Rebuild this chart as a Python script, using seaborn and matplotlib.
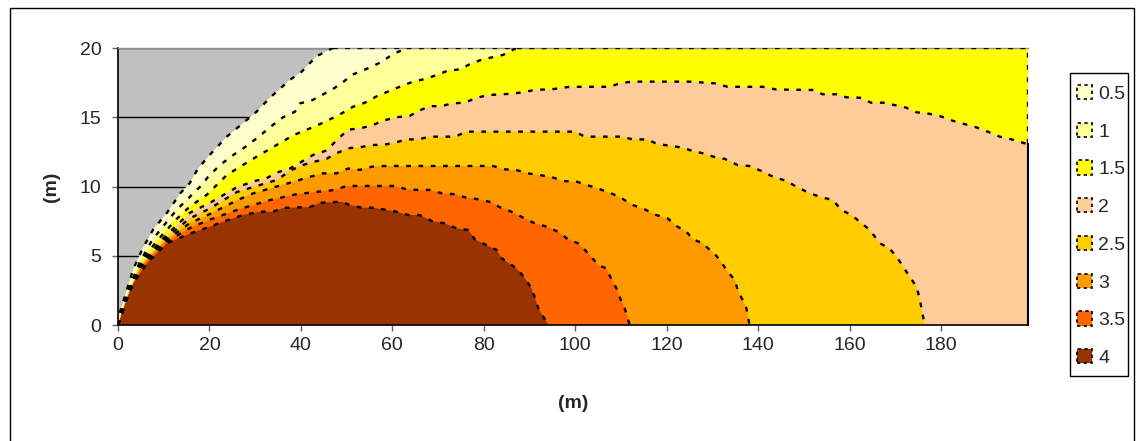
import matplotlib.pyplot as plt
import matplotlib.patches as mpatches
import seaborn as sns

# ---- contour band outlines (x in m, y in m) ----
# each outline starts at the origin and ends on the top, right or bottom edge
band_05_x = [0, 0.4, 1.9, 3.3, 5.5, 7.7, 10.7, 13.6, 15.7, 17.5, 20.1, 23.8, 26.7, 30.3, 33.2, 37.6, 40.2, 43.4, 47.0]
band_05_y = [0, 0.9, 2.5, 4.0, 5.6, 6.9, 8.1, 9.5, 10.25, 11.3, 12.3, 13.6, 14.4, 15.4, 16.4, 17.7, 18.3, 19.4, 20.0]

band_1_x = [0, 2.0, 3.3, 5.2, 7.4, 9.8, 12.8, 15.7, 18.3, 19.7, 22.3, 25.1, 27.8, 30.4, 33.9, 36.1, 38.7, 39.8,
            42.6, 46.8, 48.9, 51.1, 55.5, 57.6, 60.1, 63.1]
band_1_y = [0, 2.3, 3.4, 4.8, 6.1, 7.1, 8.3, 9.25, 10.1, 10.7, 11.55, 12.25, 12.85, 13.5, 14.45, 15.0, 15.4, 16.0,
            16.25, 17.0, 17.45, 18.05, 18.65, 19.0, 19.55, 20.0]

band_15_x = [0, 2.0, 4.8, 7.0, 9.8, 12.8, 15.7, 19.4, 23.8, 26.7, 30.3, 34.7, 38.3, 42.0, 44.8, 48.5, 51.4, 54.0,
             56.5, 59.0, 61.6, 64.5, 67.1, 69.7, 72.1, 74.8, 77.3, 79.8, 84.2, 87.1]
band_15_y = [0, 2.2, 4.55, 5.45, 6.55, 7.65, 8.55, 9.4, 10.83, 11.43, 12.15, 13.0, 13.7, 14.2, 14.6, 15.2, 15.76, 16.05,
             16.5, 16.85, 17.2, 17.57, 17.76, 18.05, 18.36, 18.46, 18.9, 19.18, 19.5, 20.0]

band_2_x = [0, 2, 5, 10, 15.7, 20, 26, 30, 32.5, 34.7, 37.6, 40.2, 42.6, 45.6, 48.0, 50.3, 52.9, 55.5, 57.9, 60.9,
            63.8, 66.0, 68.2, 70.8, 72.9, 75.8, 78.4, 80.9, 83.5, 86.1, 88.5, 91.5, 94.4, 96.6, 98.8, 107.5, 109.7,
            112.3, 125.0, 130.5, 133.3, 141.0, 144.0, 151.9, 154.1, 157.1, 159.3, 162.2, 164.7, 167.7, 169.8, 172.4,
            174.6, 176.8, 179.7, 182.5, 185.1, 187.7, 190.2, 192.8, 195.3, 199.0]
band_2_y = [0, 2.12, 4.45, 6.3, 8.1, 8.8, 9.95, 10.4, 10.6, 11.0, 11.3, 11.8, 12.27, 12.6, 13.4, 14.1, 14.2, 14.4,
            14.75, 15.0, 15.1, 15.5, 15.8, 15.8, 16.0, 16.05, 16.4, 16.6, 16.65, 16.7, 16.8, 17.0, 17.0, 17.1, 17.2,
            17.2, 17.45, 17.57, 17.57, 17.45, 17.2, 17.2, 17.0, 16.97, 16.66, 16.66, 16.44, 16.41, 16.05, 16.05,
            15.88, 15.69, 15.36, 15.29, 15.09, 14.75, 14.51, 14.27, 13.96, 13.6, 13.41, 13.05]

band_25_x = [0, 2, 5, 10, 15.7, 20, 26, 30, 34.7, 38.0, 40.4, 43.1, 45.6, 47.8, 50.3, 52.9, 55.5, 57.9, 60.5, 63.1,
             65.6, 68.2, 73.7, 76.2, 99.9, 102.1, 110.1, 112.6, 115.8, 118.0, 120.7, 123.5, 125.7, 127.9, 130.9,
             132.7, 135.5, 138.1, 140.7, 143.2, 146.2, 148.3, 151.3, 153.8, 156.3, 158.2, 160.4, 162.2, 164.4,
             166.6, 168.7, 170.5, 172.4, 174.6, 175.3, 176.4]
band_25_y = [0, 2.07, 4.35, 6.15, 7.7, 8.4, 9.6, 10.0, 10.47, 11.2, 11.55, 11.8, 12.0, 12.4, 12.76, 12.83, 13.0, 13.0,
             13.16, 13.4, 13.4, 13.6, 13.6, 13.96, 13.96, 13.6, 13.6, 13.4, 13.4, 13.05, 12.95, 12.8, 12.56, 12.4,
             12.08, 11.99, 11.55, 11.48, 11.12, 10.71, 10.4, 9.99, 9.51, 9.22, 9.03, 8.3, 7.94, 7.46, 6.86, 5.9,
             5.54, 4.82, 3.85, 2.77, 1.93, 0]

band_3_x = [0, 2, 5, 10, 15.7, 20, 26, 29.5, 34.7, 37.2, 42.0, 44.8, 47.8, 50.3, 52.9, 55.5, 58.4, 82.0, 84.6, 87.1,
            89.6, 92.2, 95.1, 97.3, 100.3, 103.2, 105.4, 108.2, 110.4, 112.6, 115.2, 117.7, 120.2, 122.1, 124.3,
            125.7, 127.9, 129.4, 130.9, 132.2, 133.3, 134.9, 135.5, 136.6, 137.4, 138.1]
band_3_y = [0, 2.02, 4.25, 6.0, 7.35, 8.0, 9.0, 9.5, 10.0, 10.23, 10.7, 10.95, 10.95, 11.3, 11.2, 11.43, 11.48, 11.48,
            11.24, 11.19, 10.95, 10.83, 10.65, 10.4, 10.35, 10.04, 9.8, 9.46, 9.1, 8.66, 8.35, 7.94, 7.7, 7.15,
            6.74, 6.19, 5.9, 5.42, 4.98, 4.4, 3.85, 3.25, 2.53, 1.8, 1.23, 0]

band_35_x = [0, 2, 5, 10, 15.7, 20, 26, 29.5, 33, 39.3, 47.4, 50.0, 60.5, 63.1, 65.6, 68.2, 70.8, 73.7, 76.2, 78.8,
             81.7, 83.5, 85.7, 88.2, 90.8, 93.7, 96.2, 98.4, 100.6, 102.1, 103.5, 105.0, 106.8, 107.9, 109.0,
             109.9, 110.8, 111.9]
band_35_y = [0, 1.97, 4.18, 5.9, 7.0, 7.6, 8.3, 8.66, 9.0, 9.46, 9.75, 10.04, 10.04, 9.8, 9.75, 9.75, 9.51, 9.44,
             9.19, 9.08, 8.86, 8.5, 8.23, 7.82, 7.39, 7.1, 6.74, 6.19, 5.9, 5.42, 4.93, 4.33, 4.09, 3.3, 2.65,
             1.86, 1.21, 0]

band_4_x = [0, 2, 3.3, 6.3, 10.7, 15.7, 20.1, 23.0, 27.3, 31.0, 33.9, 36.1, 42.0, 44.2, 48.9, 50.7, 53.3, 55.8,
            58.0, 60.9, 63.5, 66.0, 68.6, 71.5, 74.0, 76.6, 78.0, 80.2, 82.8, 83.9, 86.1, 87.5, 89.0, 90.4, 91.1,
            91.9, 93.0, 94.1]
band_4_y = [0, 1.92, 3.0, 4.45, 5.9, 6.6, 7.1, 7.46, 7.94, 8.18, 8.18, 8.45, 8.52, 8.83, 8.9, 8.66, 8.47, 8.47,
            8.35, 8.18, 7.94, 7.94, 7.51, 7.34, 6.98, 6.86, 6.19, 5.83, 5.42, 4.82, 4.33, 3.97, 3.37, 2.65, 2.04,
            1.21, 0.6, 0]

levels = ['0.5', '1', '1.5', '2', '2.5', '3', '3.5', '4']
band_colors = ['#FFFFCC', '#FFFF99', '#FFFF00', '#FFCC99', '#FFCC00', '#FF9900', '#FF6600', '#993300']
outlines = [(band_05_x, band_05_y), (band_1_x, band_1_y), (band_15_x, band_15_y), (band_2_x, band_2_y),
            (band_25_x, band_25_y), (band_3_x, band_3_y), (band_35_x, band_35_y), (band_4_x, band_4_y)]

x_max, y_max = 199, 20

# ---- style ----
sns.set_style('white')
plt.rcParams['font.family'] = ['Liberation Sans', 'DejaVu Sans']
plt.rcParams['font.size'] = 14

fig = plt.figure(figsize=(11.36, 4.41), dpi=100)
ax = fig.add_axes([118 / 1136, 116 / 441, 910 / 1136, 277 / 441])
ax.set_facecolor('#C0C0C0')

dash = (0, (2.0, 3.2))
for (xs, ys), col in zip(outlines, band_colors):
    px, py = list(xs), list(ys)
    # close the band along the chart edges
    if py[-1] >= y_max:
        px.append(x_max); py.append(y_max)
    if px[-1] >= x_max:
        px.append(x_max); py.append(0)
    ax.fill(px, py, color=col, lw=0, zorder=1)
    sns.lineplot(x=xs, y=ys, sort=False, estimator=None, color='black', lw=1.7,
                 linestyle=dash, ax=ax, zorder=3)

# dashed edge of the colored surface along the top and right
sns.lineplot(x=[band_05_x[-1], x_max, x_max], y=[y_max, y_max, band_2_y[-1]], sort=False,
             estimator=None, color='black', lw=1.7, linestyle=dash, ax=ax, zorder=3)

ax.set_xlim(0, x_max)
ax.set_ylim(0, y_max)
ax.set_xticks(range(0, 181, 20))
ax.set_yticks(range(0, 21, 5))
ax.set_axisbelow(True)
ax.yaxis.grid(True, color='black', lw=1)
ax.xaxis.grid(False)

for s in ['left', 'bottom']:
    ax.spines[s].set_color('black')
    ax.spines[s].set_linewidth(1.2)
ax.spines['top'].set_color('#909090')
ax.spines['top'].set_linewidth(1)
ax.spines['right'].set_color('black')
ax.spines['right'].set_linewidth(1.5)
ax.spines['right'].set_bounds(0, band_2_y[-1])

ax.tick_params(axis='both', direction='out', length=4, width=1, color='#606060', labelsize=14,
               left=True, bottom=True)
ax.tick_params(axis='x', pad=5)
ax.tick_params(axis='y', pad=8)

ax.set_xlabel('(m)', fontsize=14, fontweight='bold')
ax.set_ylabel('(m)', fontsize=14, fontweight='bold')
ax.xaxis.set_label_coords(0.5, -0.253)
ax.yaxis.set_label_coords(-0.064, 0.5)

# legend (frame drawn separately)
handles = [mpatches.Patch(facecolor=c, edgecolor='black', linestyle=(0, (2, 2)), lw=1.2) for c in band_colors]
fig.legend(handles, levels, loc='upper left', bbox_to_anchor=(1077 / 1136, 1 - 85 / 441),
           borderaxespad=0, borderpad=0, frameon=False, fontsize=14,
           handlelength=0.75, handleheight=0.75, handletextpad=0.35, labelspacing=1.02)
fig.add_artist(mpatches.Rectangle((1070 / 1136, 1 - 376 / 441), 58 / 1136, 303 / 441, fill=False,
                                  lw=1, edgecolor='black', transform=fig.transFigure))

# outer chart border
fig.add_artist(mpatches.Rectangle((10 / 1136, -0.05), 1124 / 1136, 1.05 - 8 / 441, fill=False,
                                  lw=1, edgecolor='black', transform=fig.transFigure, clip_on=False))

fig.savefig('out.png', dpi=100)
